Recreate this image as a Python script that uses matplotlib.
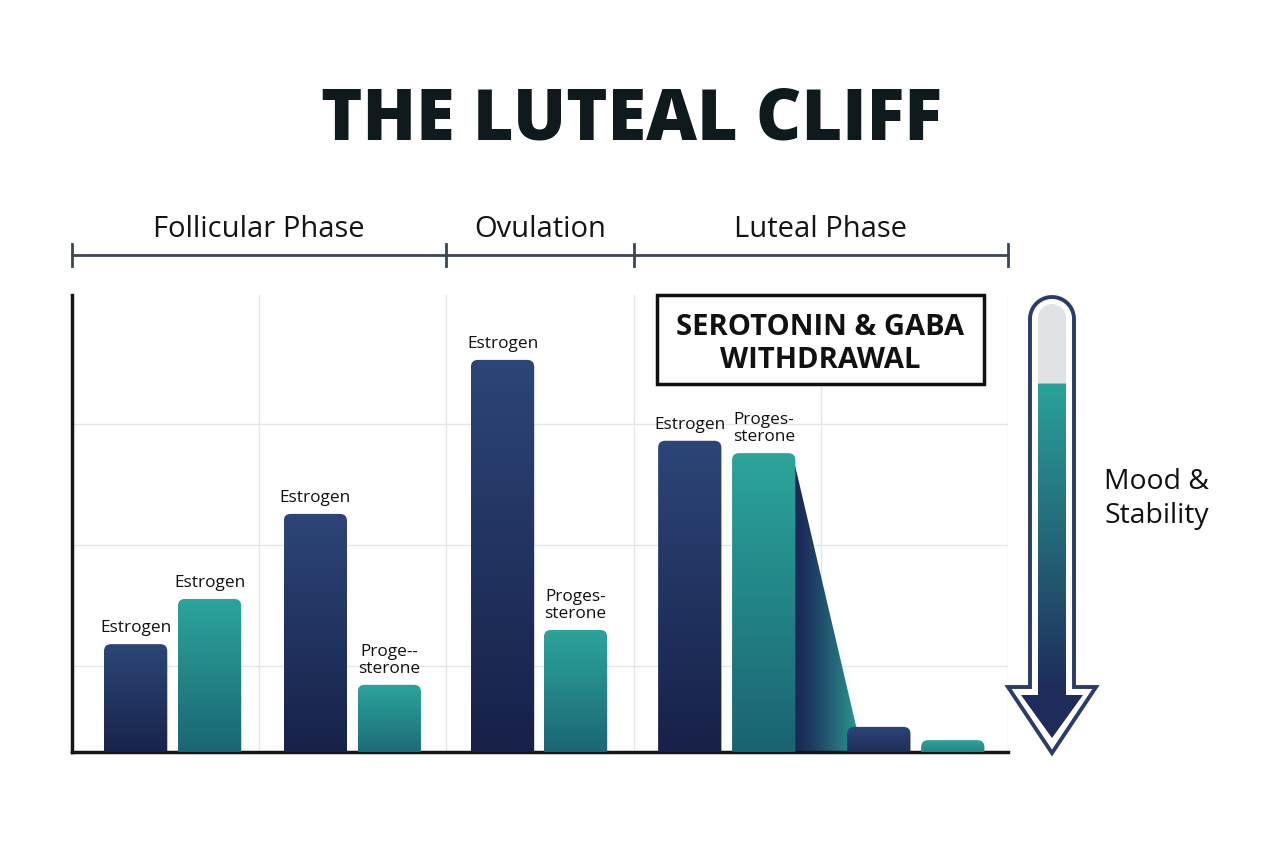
import numpy as np
import matplotlib.pyplot as plt
from matplotlib.patches import FancyBboxPatch, Rectangle, PathPatch, Polygon
from matplotlib.path import Path
from matplotlib.colors import to_rgb

plt.rcParams['font.family'] = ['Open Sans', 'DejaVu Sans']

# chart data (relative hormone level, 0-100)
phases = ["Follicular Phase", "Ovulation", "Luteal Phase"]
phase_edges = [0, 2, 3, 5]
x_pos = [0.34, 0.735, 1.30, 1.695, 2.30, 2.69, 3.30, 3.695, 4.31, 4.705]
levels = [23.6, 33.5, 52.1, 14.7, 85.8, 26.7, 68.1, 65.4, 5.5, 2.6]
bar_series = ["navy", "teal"] * 5
bar_labels = ["Estrogen", "Estrogen", "Estrogen", "Proge--\nsterone",
              "Estrogen", "Proges-\nsterone", "Estrogen", "Proges-\nsterone",
              "", ""]
grid_levels = [18.8, 45.3, 71.8]

title = "THE LUTEAL CLIFF"
callout = "SEROTONIN & GABA\nWITHDRAWAL"
side_label = "Mood &\nStability"

grad = {"navy": ("#2c4677", "#161f47"), "teal": ("#2ca59b", "#196070")}
bar_w = 0.338

W, H = 1264, 848
fig = plt.figure(figsize=(W / 100, H / 100), dpi=100)
ax_box = (72, 295, 1008, 752)  # left, top, right, bottom in pixels
ax = fig.add_axes([ax_box[0] / W, 1 - ax_box[3] / H,
                   (ax_box[2] - ax_box[0]) / W, (ax_box[3] - ax_box[1]) / H])
XMAX, YMAX = 5, 100
ax.set_xlim(0, XMAX)
ax.set_ylim(0, YMAX)

xpp = XMAX / (ax_box[2] - ax_box[0])
ypp = YMAX / (ax_box[3] - ax_box[1])
m_aspect = ypp / xpp
rad = 7 * xpp


def vgrad(top, bottom, n=256):
    a, b = np.array(to_rgb(top)), np.array(to_rgb(bottom))
    t = np.linspace(0, 1, n)[:, None]
    return (a * (1 - t) + b * t)[:, None, :]


# cliff wedge behind the luteal bars
xl = x_pos[7] + bar_w / 2 - 0.01
xr = x_pos[8] - bar_w / 2 + 0.08
yt = levels[7] - 1.2
wedge = Polygon([(xl, yt), (xr, 0), (xr, -3), (xl, -3)], closed=True,
                fc='none', ec='none', zorder=2)
ax.add_patch(wedge)
gx = np.linspace(0, 1, 300)
t = np.clip((gx - 0.08) / 0.92, 0, 1) ** 1.2
c0, c1 = np.array(to_rgb("#1b2a58")), np.array(to_rgb("#2aa39a"))
wimg = (c0 * (1 - t[:, None]) + c1 * t[:, None])[None, :, :]
im = ax.imshow(wimg, extent=(xl, xr, -3, yt), origin='upper', aspect='auto',
               interpolation='bilinear', zorder=2)
im.set_clip_path(wedge)

# bars with rounded tops and vertical gradient
for x, h, s, lab in zip(x_pos, levels, bar_series, bar_labels):
    p = FancyBboxPatch((x - bar_w / 2, -3), bar_w, h + 3,
                       boxstyle=f"round,pad=0,rounding_size={rad}",
                       mutation_aspect=m_aspect, fc='none', ec='none', zorder=3)
    ax.add_patch(p)
    im = ax.imshow(vgrad(*grad[s]), extent=(x - bar_w / 2, x + bar_w / 2, -3, h),
                   origin='upper', aspect='auto', interpolation='bilinear', zorder=3)
    im.set_clip_path(p)
    if lab:
        ax.text(x, h + 1.8, lab, ha='center', va='bottom', fontsize=12.4,
                color='#111111', linespacing=1.05, zorder=4)

ax.set_xlim(0, XMAX)
ax.set_ylim(0, YMAX)
ax.set_xticks([1, 2, 3, 4, 5])
ax.set_yticks(grid_levels)
ax.grid(color='#e3e7ec', lw=1)
ax.set_axisbelow(True)
ax.tick_params(length=0, labelbottom=False, labelleft=False)
for sp in ['top', 'right']:
    ax.spines[sp].set_visible(False)
for sp in ['left', 'bottom']:
    ax.spines[sp].set_color('#161616')
    ax.spines[sp].set_linewidth(2.5)

# phase bracket above the plot
tr = ax.get_xaxis_transform()
ax.plot([phase_edges[0], phase_edges[-1]], [1.0875, 1.0875], transform=tr,
        clip_on=False, color='#3a4654', lw=2)
for e in phase_edges:
    ax.plot([e, e], [1.064, 1.111], transform=tr, clip_on=False,
            color='#3a4654', lw=2)
for name, a, b in zip(phases, phase_edges[:-1], phase_edges[1:]):
    ax.text((a + b) / 2, 1.144, name, transform=tr, ha='center', va='center',
            fontsize=21, color='#151515')

# overlay in pixel coordinates for title, callout and mood arrow
ov = fig.add_axes([0, 0, 1, 1])
ov.axis('off')

ov.text(632, 121, title, ha='center', va='center', fontsize=50.5,
        fontweight='heavy', color='#0e1a1e')

ov.add_patch(Rectangle((657, 295), 327, 89, fc='white', ec='#111111', lw=2.5))
ov.text(820.5, 344, callout, ha='center', va='center', fontsize=21,
        fontweight='bold', color='#111111', linespacing=1.17)

ov.text(1157, 499, side_label, ha='center', va='center', fontsize=20.4,
        color='#111111', linespacing=1.25)


def arrow_path(cx, hw, top, neck, head_hw, tip):
    th = np.linspace(np.pi, 0, 40)
    cy = top + hw
    arc = np.column_stack([cx + hw * np.cos(th), cy - hw * np.sin(th)])
    verts = [(cx - hw, neck)] + list(map(tuple, arc)) + [
        (cx + hw, neck), (cx + head_hw, neck), (cx, tip),
        (cx - head_hw, neck), (cx - hw, neck)]
    return Path(verts, [Path.MOVETO] + [Path.LINETO] * (len(verts) - 2) + [Path.CLOSEPOLY])


outer = PathPatch(arrow_path(1052, 22, 297, 687, 44, 753), fc='white',
                  ec='#2a3d68', lw=2.8, zorder=1)
ov.add_patch(outer)
inner = PathPatch(arrow_path(1052, 14, 304, 695, 31, 738), fc='none',
                  ec='none', zorder=2)
ov.add_patch(inner)
ys = np.linspace(304, 740, 400)
grey = np.array(to_rgb("#e0e3e6"))
teal = np.array(to_rgb("#2aa39a"))
navy = np.array(to_rgb("#1e2c5b"))
u = np.clip((ys - 383) / (690 - 383), 0, 1)[:, None]
col = teal * (1 - u) + navy * u
col[ys < 383] = grey
aimg = col[:, None, :]
im = ov.imshow(aimg, extent=(1020, 1084, 740, 304), origin='upper',
               aspect='auto', interpolation='bilinear', zorder=2)
im.set_clip_path(inner)

ov.set_xlim(0, W)
ov.set_ylim(H, 0)

fig.savefig('out.png', dpi=100, facecolor='white')
